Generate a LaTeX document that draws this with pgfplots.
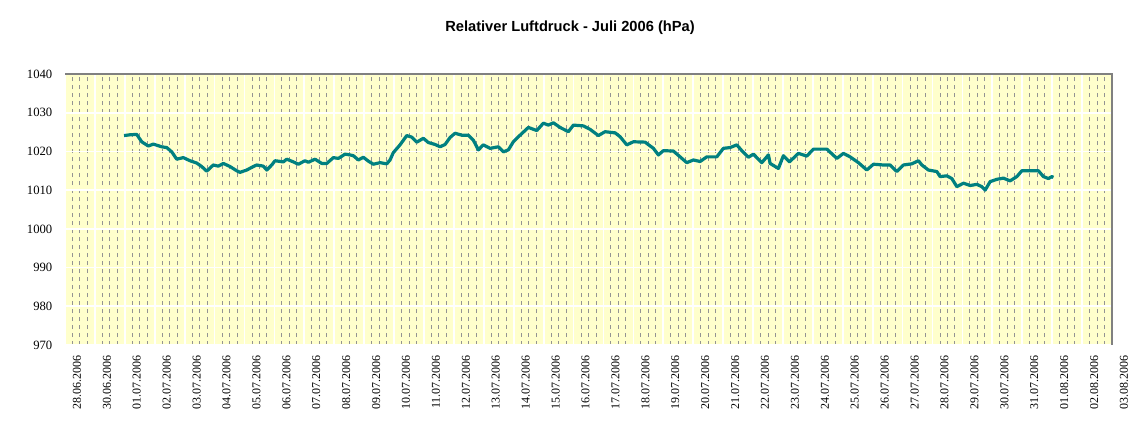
\documentclass[border=0pt]{standalone}
\usepackage{pgfplots}
\pgfplotsset{compat=1.18}
\usepackage{fontspec}
\setmainfont{Liberation Serif}
\newfontfamily\arial{Liberation Sans}
\definecolor{bgyellow}{HTML}{FFFFCC}
\definecolor{teal80}{HTML}{008080}
\definecolor{gridgray}{HTML}{808080}
\begin{document}
\begin{tikzpicture}
\useasboundingbox (0pt,0pt) rectangle (858pt,327.75pt);
\begin{axis}[
  at={(48.75pt,69pt)}, anchor=south west,
  scale only axis, width=785.25pt, height=203.25pt,
  xmin=0, xmax=35, ymin=970, ymax=1040,
  ytick={970,980,...,1040},
  xtick={0,...,35},
  minor xtick={0.25,0.5,0.75,1.25,1.5,1.75,2.25,2.5,2.75,3.25,3.5,3.75,4.25,4.5,4.75,5.25,5.5,5.75,6.25,6.5,6.75,7.25,7.5,7.75,8.25,8.5,8.75,9.25,9.5,9.75,10.25,10.5,10.75,11.25,11.5,11.75,12.25,12.5,12.75,13.25,13.5,13.75,14.25,14.5,14.75,15.25,15.5,15.75,16.25,16.5,16.75,17.25,17.5,17.75,18.25,18.5,18.75,19.25,19.5,19.75,20.25,20.5,20.75,21.25,21.5,21.75,22.25,22.5,22.75,23.25,23.5,23.75,24.25,24.5,24.75,25.25,25.5,25.75,26.25,26.5,26.75,27.25,27.5,27.75,28.25,28.5,28.75,29.25,29.5,29.75,30.25,30.5,30.75,31.25,31.5,31.75,32.25,32.5,32.75,33.25,33.5,33.75,34.25,34.5,34.75},
  xticklabels={28.06.2006,30.06.2006,01.07.2006,02.07.2006,03.07.2006,04.07.2006,05.07.2006,06.07.2006,07.07.2006,08.07.2006,09.07.2006,10.07.2006,11.07.2006,12.07.2006,13.07.2006,14.07.2006,15.07.2006,16.07.2006,17.07.2006,18.07.2006,19.07.2006,20.07.2006,21.07.2006,22.07.2006,23.07.2006,24.07.2006,25.07.2006,26.07.2006,27.07.2006,28.07.2006,29.07.2006,30.07.2006,31.07.2006,01.08.2006,02.08.2006,03.08.2006},
  xticklabel style={rotate=90, anchor=east, font=\fontsize{9}{11}\selectfont, xshift=-4pt, yshift=-9pt},
  yticklabel style={font=\fontsize{9.5}{11}\selectfont, xshift=-6pt},
  /pgf/number format/assume math mode=true,
  /pgf/number format/set thousands separator={},
  major tick length=0pt, minor tick length=0pt,
  axis line style={draw=none},
  axis background/.style={fill=bgyellow},
  xmajorgrids, ymajorgrids, xminorgrids,
  major grid style={white, line width=1.3pt},
  minor grid style={color=gridgray!85, line width=0.7pt, dash pattern=on 3pt off 3pt},
  clip=false,
]
\addplot[teal80, line width=2.4pt, line join=round] coordinates {
(1.973,1024.1) (2.173,1024.3) (2.397,1024.4) (2.564,1022.5) (2.785,1021.4) (2.952,1021.9)
(3.233,1021.2) (3.400,1021.0) (3.567,1019.9) (3.735,1018.0) (3.955,1018.4) (4.179,1017.6)
(4.403,1017.0) (4.570,1016.1) (4.738,1014.9) (4.958,1016.5) (5.125,1016.2) (5.293,1016.9)
(5.517,1016.1) (5.741,1015.0) (5.851,1014.6) (6.075,1015.2) (6.296,1016.1) (6.409,1016.5)
(6.630,1016.2) (6.744,1015.2) (6.911,1016.5) (7.021,1017.6) (7.299,1017.3) (7.412,1018.0)
(7.633,1017.3) (7.800,1016.7) (8.024,1017.6) (8.134,1017.2) (8.358,1018.0) (8.582,1016.9)
(8.750,1016.9) (8.970,1018.4) (9.138,1018.2) (9.361,1019.3) (9.529,1019.1) (9.639,1018.9)
(9.806,1017.8) (9.973,1018.5) (10.140,1017.5) (10.308,1016.7) (10.532,1017.1) (10.756,1016.8)
(10.866,1017.8) (10.976,1019.7) (11.200,1021.7) (11.424,1024.1) (11.591,1023.7) (11.759,1022.4)
(11.979,1023.4) (12.147,1022.3) (12.371,1021.8) (12.538,1021.2) (12.705,1021.8) (12.872,1023.6)
(13.039,1024.7) (13.263,1024.2) (13.484,1024.2) (13.651,1022.9) (13.818,1020.4) (13.985,1021.7)
(14.209,1020.8) (14.487,1021.2) (14.654,1019.9) (14.821,1020.4) (14.988,1022.5) (15.212,1024.2)
(15.490,1026.2) (15.771,1025.4) (15.991,1027.3) (16.159,1026.8) (16.326,1027.4) (16.550,1026.2)
(16.827,1025.1) (16.994,1026.8) (17.329,1026.6) (17.553,1025.7) (17.830,1024.1) (18.054,1025.1)
(18.389,1024.8) (18.556,1023.8) (18.780,1021.7) (19.001,1022.5) (19.391,1022.4) (19.669,1020.8)
(19.836,1019.1) (20.003,1020.2) (20.338,1020.1) (20.562,1018.6) (20.786,1017.1) (21.007,1017.8)
(21.230,1017.4) (21.454,1018.6) (21.789,1018.6) (22.009,1020.8) (22.233,1021.0) (22.457,1021.7)
(22.625,1020.2) (22.845,1018.5) (23.013,1019.3) (23.293,1017.1) (23.514,1019.1) (23.571,1016.9)
(23.848,1015.6) (24.015,1018.9) (24.216,1017.3) (24.517,1019.5) (24.798,1018.8) (25.018,1020.6)
(25.467,1020.6) (25.801,1018.2) (26.022,1019.5) (26.245,1018.6) (26.523,1017.1) (26.804,1015.2)
(27.025,1016.7) (27.359,1016.5) (27.583,1016.5) (27.807,1014.8) (28.028,1016.5) (28.308,1016.8)
(28.529,1017.6) (28.643,1016.5) (28.863,1015.2) (29.144,1014.8) (29.254,1013.5) (29.478,1013.7)
(29.646,1013.0) (29.813,1010.9) (30.034,1011.8) (30.258,1011.2) (30.482,1011.5) (30.649,1010.9)
(30.759,1010.0) (30.926,1012.2) (31.150,1012.8) (31.371,1013.1) (31.595,1012.4) (31.819,1013.5)
(31.986,1015.0) (32.263,1015.0) (32.541,1015.0) (32.708,1013.5) (32.875,1013.0) (32.989,1013.5)
(33.042,1013.3)
};
\draw[gridgray, line width=1pt] (rel axis cs:0,1) -- (rel axis cs:1,1) -- (rel axis cs:1,0);
\end{axis}
\node[font=\arial\bfseries\fontsize{11}{13}\selectfont] at (427.5pt,306.75pt) {Relativer Luftdruck - Juli 2006 (hPa)};
\end{tikzpicture}
\end{document}
